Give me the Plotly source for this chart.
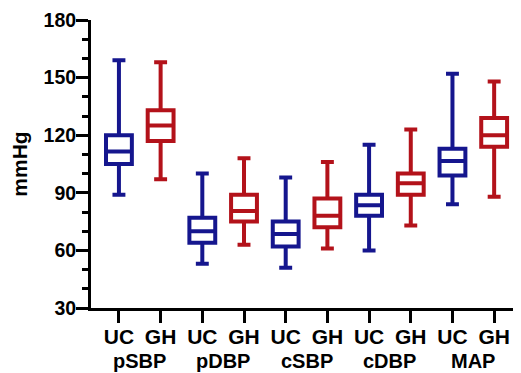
import plotly.graph_objects as go

groups = ["pSBP", "pDBP", "cSBP", "cDBP", "MAP"]
subgroups = ["UC", "GH"]

# statistics per box, ordered: pSBP UC, pSBP GH, pDBP UC, pDBP GH, ...
upper = [159, 158, 100, 108, 98, 106, 115, 123, 152, 148]
q3 = [120, 133, 77, 89, 75, 87, 89, 100, 113, 129]
median = [111.5, 125, 70, 80.5, 68.5, 78, 83.5, 95, 106.5, 120]
q1 = [105, 117, 64, 75, 62, 72, 78, 89, 99, 114]
lower = [89, 97, 53, 63, 51, 61, 60, 73, 84, 88]

colors = {"UC": "#15168E", "GH": "#B3121A"}
FONT = "Liberation Sans, Arial, sans-serif"

fig = go.Figure()
positions = []
labels = []
for gi, g in enumerate(groups):
    for si, s in enumerate(subgroups):
        i = gi * 2 + si
        positions.append(i)
        labels.append(s)
        fig.add_trace(go.Box(
            x=[i], q1=[q1[i]], median=[median[i]], q3=[q3[i]],
            lowerfence=[lower[i]], upperfence=[upper[i]],
            width=0.62, whiskerwidth=0.5,
            line=dict(color=colors[s], width=4),
            fillcolor="rgba(255,255,255,0)",
            boxpoints=False, showlegend=False, hoverinfo="skip",
            name=f"{g} {s}",
        ))

for gi, g in enumerate(groups):
    fig.add_annotation(
        x=gi * 2 + 0.5, y=-0.183, xref="x", yref="paper",
        text=f"<b>{g}</b>", showarrow=False, yanchor="middle",
        font=dict(family=FONT, size=20, color="black"),
    )

fig.update_xaxes(
    range=[-0.67, 9.62], tickmode="array", tickvals=positions,
    ticktext=[f"<b>{t}</b>" for t in labels],
    ticks="outside", ticklen=12, tickwidth=3, tickcolor="black",
    showline=True, linecolor="black", linewidth=3,
    showgrid=False, zeroline=False, ticklabelstandoff=-4,
    tickfont=dict(family=FONT, size=21, color="black"),
)
fig.update_yaxes(
    range=[30, 180], tickmode="array", tickvals=[30, 60, 90, 120, 150, 180],
    ticktext=["<b>%d</b>" % v for v in [30, 60, 90, 120, 150, 180]],
    ticks="outside", ticklen=12, tickwidth=3, tickcolor="black",
    minor=dict(dtick=10, tick0=30, ticks="outside", ticklen=6, tickwidth=3, tickcolor="black", showgrid=False),
    showline=True, linecolor="black", linewidth=3,
    showgrid=False, zeroline=False, ticklabelstandoff=-4,
    tickfont=dict(family=FONT, size=19.5, color="black"),
    title=dict(text="<b>mmHg</b>", font=dict(family=FONT, size=21, color="black"), standoff=14),
)
fig.update_layout(
    width=513, height=365,
    margin=dict(l=83, r=1, t=12, b=65),
    plot_bgcolor="white", paper_bgcolor="white",
)
fig.write_html("out.html")
